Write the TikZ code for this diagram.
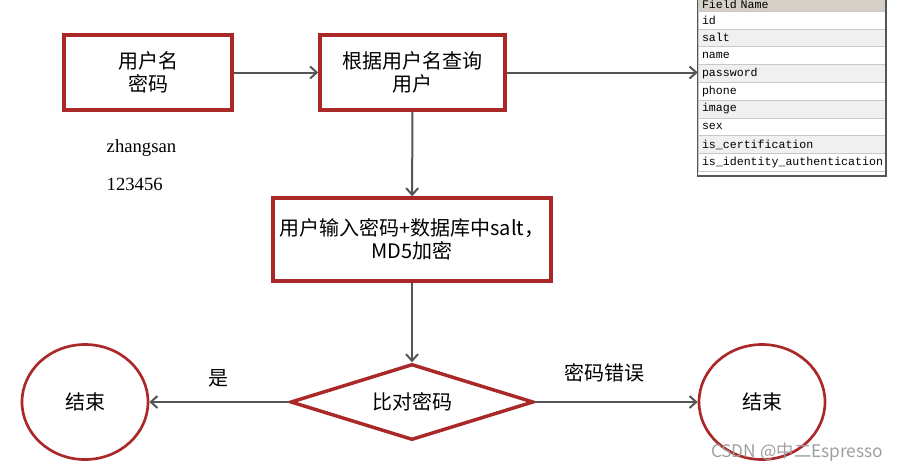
\documentclass[tikz,border=0pt]{standalone}
\usepackage{fontspec}
\setmainfont{Liberation Serif}
\newfontfamily\cjk{Noto Sans CJK SC}
\newfontfamily\tblfont{Liberation Mono}
\usetikzlibrary{positioning, shapes.geometric, arrows.meta}
\definecolor{boxred}{RGB}{170,40,40}
\definecolor{flowgray}{RGB}{85,85,85}
\definecolor{hdrfill}{RGB}{212,208,200}
\definecolor{rowgray}{RGB}{240,240,240}
\definecolor{rowline}{RGB}{200,200,200}

\begin{document}
\begin{tikzpicture}[x=0.75pt, y=-0.75pt,
    box/.style={draw=boxred, line width=2.6pt, fill=white, align=center, inner sep=0pt,
        font=\cjk\fontsize{15}{17.5}\selectfont},
    endnode/.style={ellipse, draw=boxred, line width=2pt, inner sep=0pt,
        minimum width=94.5pt, minimum height=86.25pt, font=\cjk\fontsize{15}{17.5}\selectfont},
    flow/.style={draw=flowgray, line width=1.5pt, -{Straight Barb[length=5pt,width=9pt]}},
    row/.style={draw=rowline, line width=0.4pt, inner xsep=3pt, inner ysep=0pt,
        text width=135pt, align=left, minimum height=13.35pt,
        font=\tblfont\fontsize{8.7}{9}\selectfont},
    note/.style={font=\fontsize{14}{16}\selectfont},
    lbl/.style={font=\cjk\fontsize{15}{17}\selectfont}]
    \useasboundingbox (0,0) rectangle (902,472);

    % Login input and query
    \node[box, minimum width=126pt, minimum height=56.25pt] (login) at (148,72.5) {用户名\\密码};
    \node[box, minimum width=138.75pt, minimum height=56.25pt] (query) at (412.5,72.5) {根据用户名查询\\用户};
    \node[box, minimum width=208.5pt, minimum height=62.25pt] (hash) at (412,239.5) {用户输入密码+数据库中salt，\\MD5加密};
    \node[box, diamond, aspect=3.2, minimum width=182.25pt, minimum height=57pt] (check) at (412,402) {比对密码};

    % Sample values
    \node[note, anchor=base west] (uname) at (102,152) {zhangsan};
    \node[note, anchor=base west] (upwd) at (102,190) {123456};

    % End states
    \node[endnode] (endok) at (85,402) {结束};
    \node[endnode] (endbad) at (762,402) {结束};

    % User table
    \node[row, fill=hdrfill, minimum height=9.75pt] (hdr) at (792,4.5) {Field Name};
    \foreach \f [count=\i] in {id,salt,name,password,phone,image,sex,is\_certification,is\_identity\_authentication} {
        \ifodd\i \def\rowfill{white}\else\def\rowfill{rowgray}\fi
        \node[row, fill=\rowfill] (row\i) at (792,2.1+17.8*\i) {\f};
    }
    \coordinate (tblend) at (886,176);
    \draw[flowgray, line width=0.8pt] (hdr.north west) rectangle (tblend);

    % Arrows
    \draw[flow] (login) -- (query);
    \draw[flow] (query) -- (query -| row4.west);
    \draw[flow] (query) -- (hash);
    \draw[flow] (hash) -- (check);
    \draw[flow] (check) -- (endok);
    \draw[flow] (check) -- (endbad);

    % Branch labels
    \node[lbl] (yes) at (218,378) {是};
    \node[lbl] (wrong) at (604,373) {密码错误};

    \node[anchor=east, text=gray!75, font=\cjk\fontsize{13}{13}\selectfont] (mark) at (888,452) {CSDN @中二Espresso};
\end{tikzpicture}
\end{document}
